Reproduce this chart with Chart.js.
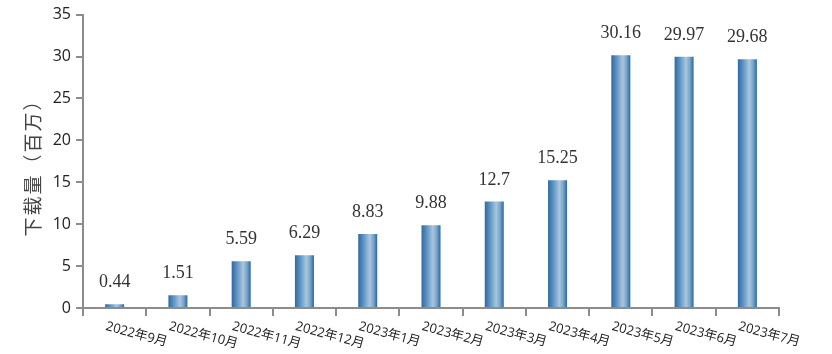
<!DOCTYPE html>
<html>
<head>
<meta charset="utf-8">
<script src="https://cdn.jsdelivr.net/npm/chart.js@4"></script>
<style>
  html, body { margin: 0; padding: 0; background: #fff; }
  #wrap { width: 832px; height: 354px; }
</style>
</head>
<body>
<div id="wrap"><canvas id="grafico"></canvas></div>
<script>
// datos
const meses = ["2022年9月", "2022年10月", "2022年11月", "2022年12月", "2023年1月", "2023年2月",
  "2023年3月", "2023年4月", "2023年5月", "2023年6月", "2023年7月"];
const descargas = [0.44, 1.51, 5.59, 6.29, 8.83, 9.88, 12.7, 15.25, 30.16, 29.97, 29.68];
const tituloY = "下载量（百万）";

const anchoBarra = 19;

// degradado horizontal de cada barra (efecto cilindro)
function colorBarra(context) {
  const chart = context.chart;
  const xScale = chart.scales.x;
  if (!chart.chartArea || !xScale) return "#5b8fc0";
  const cx = xScale.getPixelForValue(context.dataIndex);
  const g = chart.ctx.createLinearGradient(cx - anchoBarra / 2, 0, cx + anchoBarra / 2, 0);
  g.addColorStop(0, "#2c6aa2");
  g.addColorStop(0.25, "#5a8fc0");
  g.addColorStop(0.6, "#a9c6de");
  g.addColorStop(0.8, "#7aa5cb");
  g.addColorStop(1, "#2a679f");
  return g;
}

// etiquetas de valores, del eje x y título del eje y
const etiquetasPlugin = {
  id: "etiquetas",
  afterDatasetsDraw(chart) {
    const ctx = chart.ctx;
    const xScale = chart.scales.x;
    const yScale = chart.scales.y;
    ctx.save();
    ctx.fillStyle = "#333";
    ctx.font = '18px "Liberation Serif", "DejaVu Serif", serif';
    ctx.textAlign = "center";
    ctx.textBaseline = "alphabetic";
    descargas.forEach((v, i) => {
      const x = xScale.getPixelForValue(i);
      const y = yScale.getPixelForValue(v);
      ctx.fillText(String(v), x, y - 17);
    });

    ctx.font = '13px "Open Sans", "Noto Sans CJK SC", sans-serif';
    ctx.fillStyle = "#222";
    ctx.textAlign = "left";
    ctx.textBaseline = "top";
    meses.forEach((m, i) => {
      const x = xScale.getPixelForValue(i) - 7;
      ctx.save();
      ctx.translate(x, 320);
      ctx.rotate(15 * Math.PI / 180);
      ctx.fillText(m, 0, 0);
      ctx.restore();
    });

    ctx.font = '19px "Noto Sans CJK SC", sans-serif';
    ctx.fillStyle = "#444";
    ctx.letterSpacing = "2px";
    ctx.textAlign = "center";
    ctx.textBaseline = "middle";
    ctx.translate(33, 163);
    ctx.rotate(-Math.PI / 2);
    ctx.fillText(tituloY, 0, 0);
    ctx.restore();
  },
};

new Chart(document.getElementById("grafico"), {
  type: "bar",
  data: {
    labels: meses,
    datasets: [
      {
        label: tituloY,
        data: descargas,
        backgroundColor: colorBarra,
        borderWidth: 0,
        categoryPercentage: 1,
        barPercentage: anchoBarra / 63.27,
      },
    ],
  },
  options: {
    responsive: true,
    maintainAspectRatio: false,
    animation: false,
    layout: { padding: { left: 0, right: 53, top: 13, bottom: 0 } },
    plugins: {
      legend: { display: false },
      tooltip: { enabled: false },
    },
    scales: {
      x: {
        ticks: { display: false },
        grid: {
          display: true,
          offset: true,
          drawOnChartArea: false,
          drawTicks: true,
          tickLength: 8,
          color: "#8c8c8c",
          lineWidth: 2,
        },
        border: { color: "#8c8c8c", width: 2 },
        afterFit: (scale) => { scale.height = 46; },
      },
      y: {
        min: 0,
        max: 35,
        ticks: {
          stepSize: 5,
          padding: 5,
          color: "#222",
          font: { family: '"Open Sans", "DejaVu Sans", sans-serif', size: 16 },
        },
        grid: {
          display: true,
          drawOnChartArea: false,
          drawTicks: true,
          tickLength: 7,
          color: "#8c8c8c",
          lineWidth: 2,
        },
        border: { color: "#8c8c8c", width: 2 },
        afterFit: (scale) => { scale.width = 83; },
      },
    },
  },
  plugins: [etiquetasPlugin],
});
</script>
</body>
</html>
